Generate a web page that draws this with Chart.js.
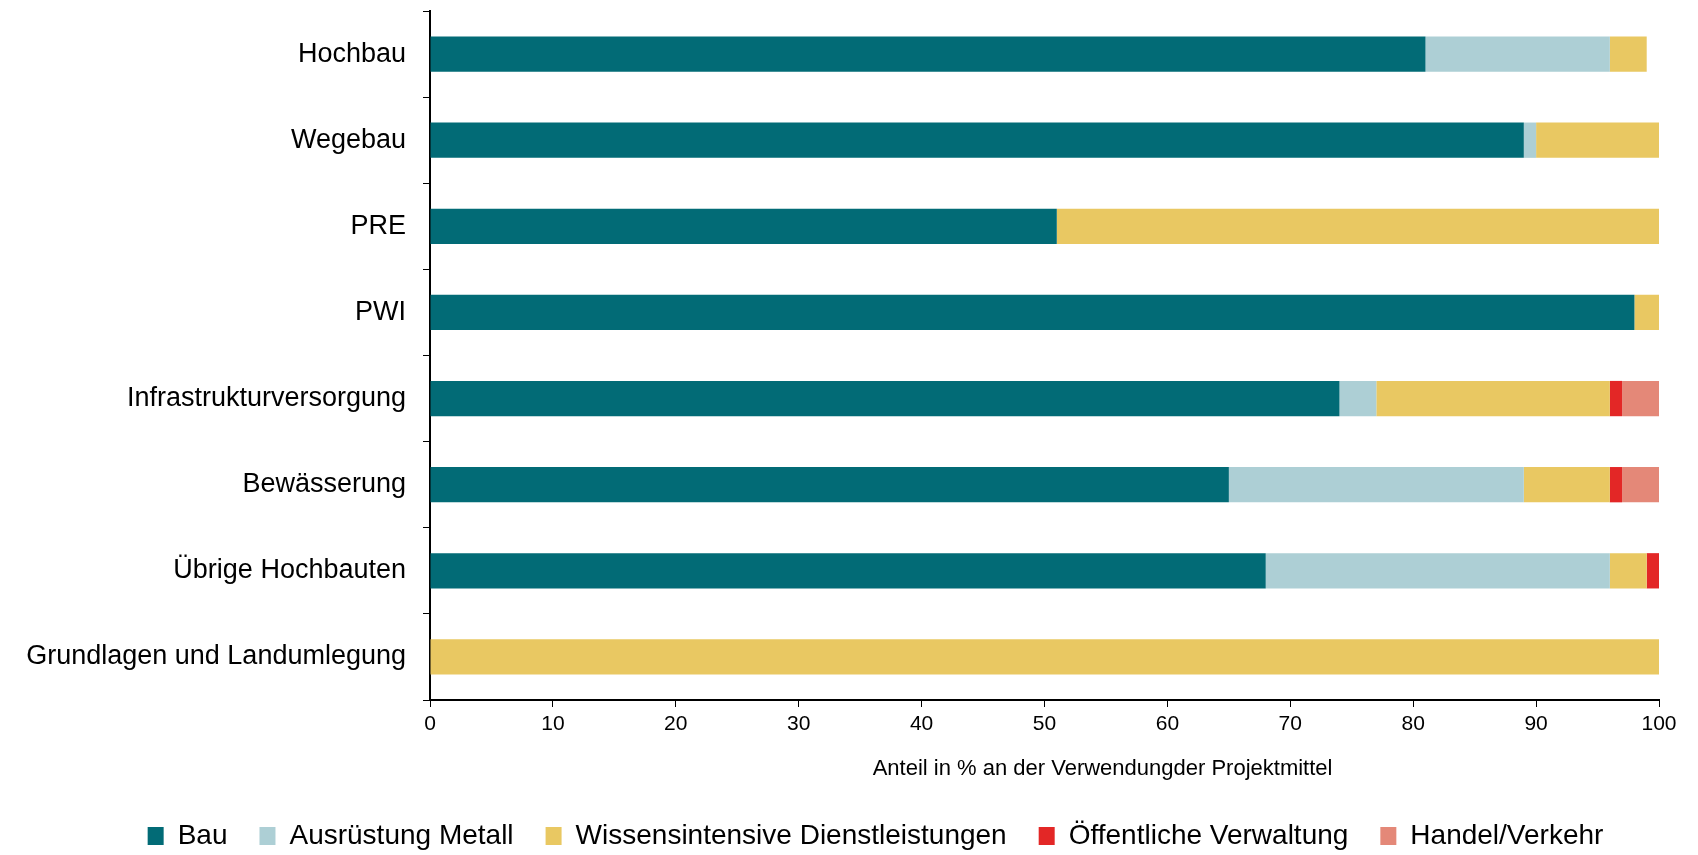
<!DOCTYPE html>
<html>
<head>
<meta charset="utf-8">
<script src="https://cdn.jsdelivr.net/npm/chart.js@4"></script>
<style>
  html, body { margin: 0; padding: 0; background: #fff; }
  #wrap { width: 1698px; height: 855px; }
</style>
</head>
<body>
<div id="wrap"><canvas id="myChart" width="1698" height="855"></canvas></div>
<script>
// Kategorien (von oben nach unten)
var categories = ['Hochbau', 'Wegebau', 'PRE', 'PWI', 'Infrastrukturversorgung', 'Bewässerung', 'Übrige Hochbauten', 'Grundlagen und Landumlegung'];

// Anteile in %
var bau        = [81, 89, 51, 98, 74, 65, 68, 0];
var ausruestung = [15, 1, 0, 0, 3, 24, 28, 0];
var wissen     = [3, 10, 49, 2, 19, 7, 3, 100];
var verwaltung = [0, 0, 0, 0, 1, 1, 1, 0];
var handel     = [0, 0, 0, 0, 3, 3, 0, 0];

var xTicks = [0, 10, 20, 30, 40, 50, 60, 70, 80, 90, 100];

var font = "'Liberation Sans', Arial, sans-serif";

// Legende etwas nach rechts schieben (wie im Original)
var legendShift = {
    id: 'legendShift',
    afterLayout: function (chart) {
        if (chart.legend) {
            chart.legend.left += 46;
            chart.legend.right += 46;
        }
    }
};

var ctx = document.getElementById('myChart').getContext('2d');
var chart = new Chart(ctx, {
    type: 'bar',
    data: {
        labels: categories,
        datasets: [
            { label: 'Bau', data: bau, backgroundColor: '#026b76' },
            { label: 'Ausrüstung Metall', data: ausruestung, backgroundColor: '#adcfd5' },
            { label: 'Wissensintensive Dienstleistungen', data: wissen, backgroundColor: '#e9c862' },
            { label: 'Öffentliche Verwaltung', data: verwaltung, backgroundColor: '#e32726' },
            { label: 'Handel/Verkehr', data: handel, backgroundColor: '#e48878' }
        ]
    },
    plugins: [legendShift],
    options: {
        indexAxis: 'y',
        responsive: false,
        animation: false,
        datasets: {
            bar: { categoryPercentage: 1, barPercentage: 0.41, borderWidth: 0 }
        },
        layout: { padding: { top: 11, right: 39, bottom: -5, left: 0 } },
        plugins: {
            tooltip: { enabled: false },
            legend: {
                position: 'bottom',
                labels: {
                    color: '#000',
                    font: { family: font, size: 28 },
                    boxWidth: 16,
                    boxHeight: 18,
                    padding: 32
                }
            }
        },
        scales: {
            x: {
                stacked: true,
                min: 0,
                max: 100,
                afterBuildTicks: function (scale) {
                    scale.ticks = xTicks.map(function (v) { return { value: v }; });
                },
                afterFit: function (scale) { scale.height = 90; },
                grid: { drawOnChartArea: false, drawTicks: true, tickLength: 7, color: '#000', lineWidth: 1 },
                border: { color: '#000', width: 2 },
                ticks: { color: '#000', font: { family: font, size: 21 }, padding: 5, maxRotation: 0 },
                title: {
                    display: true,
                    text: '                   Anteil in % an der Verwendungder Projektmittel',
                    color: '#000',
                    font: { family: font, size: 22 },
                    padding: { top: 10, bottom: 8 }
                }
            },
            y: {
                stacked: true,
                afterFit: function (scale) {
                    scale.width = 430;
                    scale.paddingTop = 0;
                    scale.paddingBottom = 0;
                },
                grid: { drawOnChartArea: false, drawTicks: true, tickLength: 7, color: '#000', lineWidth: 1 },
                border: { color: '#000', width: 2 },
                ticks: { color: '#000', font: { family: font, size: 27 }, padding: 17 }
            }
        }
    }
});
</script>
</body>
</html>
